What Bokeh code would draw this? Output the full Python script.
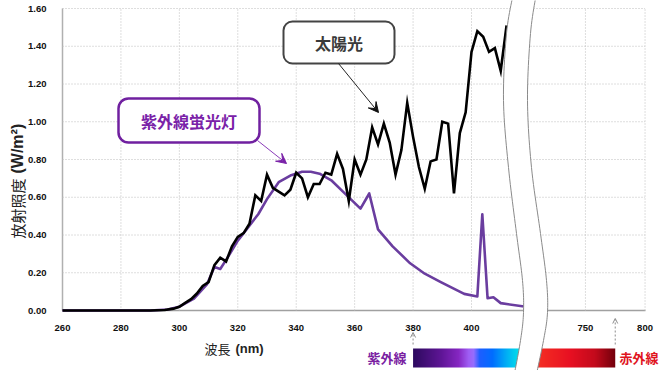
import numpy as np
from bokeh.plotting import figure
from bokeh.models import Range1d, FixedTicker, PrintfTickFormatter, Arrow, VeeHead, OpenHead
from bokeh.core.properties import value
from bokeh.embed import file_html
from bokeh.resources import INLINE

# ---------------- data ----------------
sun_nm = [260, 270, 280, 290, 295, 298,
          300, 302, 304, 306, 308, 310, 312, 314, 316, 318, 320, 322, 324, 326, 328, 330,
          332, 334, 336, 338, 340, 342, 344, 346, 348, 350, 352, 354, 356, 358, 360,
          362, 364, 366, 368, 370, 372, 374, 376, 378, 380, 382, 384, 386, 388, 390,
          392, 394, 396, 398, 400, 402, 404, 406, 408, 410, 412]
sun_val = [0, 0, 0, 0, 0.003, 0.01,
           0.02, 0.04, 0.06, 0.09, 0.13, 0.15, 0.24, 0.28, 0.26, 0.34, 0.39, 0.41, 0.46, 0.61, 0.58, 0.72,
           0.65, 0.63, 0.61, 0.64, 0.73, 0.70, 0.60, 0.67, 0.67, 0.73, 0.72, 0.83, 0.75, 0.58, 0.80,
           0.72, 0.80, 0.97, 0.88, 0.99, 0.89, 0.72, 0.85, 1.10, 0.92, 0.76, 0.645, 0.79, 0.80, 1.00,
           0.99, 0.62, 0.94, 1.05, 1.37, 1.48, 1.45, 1.37, 1.39, 1.27, 1.51]

uv_nm = [260, 280, 290, 296, 300, 305, 309.5, 312, 314, 316.5, 320, 323, 327, 330, 334,
         338, 342, 345, 348, 352, 356, 362, 365, 368, 373, 379, 384, 389.5, 397.5, 402,
         403.7, 405.5, 407.5, 410, 418]
uv_val = [0, 0, 0, 0.005, 0.02, 0.063, 0.14, 0.23, 0.22, 0.28, 0.37, 0.43, 0.51, 0.59, 0.68,
          0.715, 0.735, 0.735, 0.725, 0.69, 0.63, 0.54, 0.62, 0.43, 0.34, 0.25, 0.195, 0.15, 0.088, 0.074,
          0.51, 0.065, 0.07, 0.039, 0.021]

x_ticks_left = [260, 280, 300, 320, 340, 360, 380, 400]
x_ticks_right = [750, 800]
y_ticks = [0.0, 0.2, 0.4, 0.6, 0.8, 1.0, 1.2, 1.4, 1.6]

uv_label = "紫外線"
ir_label = "赤外線"
sun_label = "太陽光"
lamp_label = "紫外線蛍光灯"
uv_edge_nm = 380
ir_edge_nm = 775

# ---------------- layout helpers (canvas pixel -> data) ----------------
W, H = 670, 370
PX_PER_NM = 409.0 / 140.0
Y_SCALE = 302.0 / 1.6


def ix(px):
    return 260 + (px - 62) / PX_PER_NM


def iy(py):
    return (310 - py) / Y_SCALE


XB750 = round(ix(585), 1)
XB800 = round(ix(644.5), 1)


def brk(nm):
    return XB750 + (nm - 750) * (XB800 - XB750) / 50.0


def smooth(pts, n=12):
    P = np.asarray(pts, float)
    P = np.vstack([P[0], P, P[-1]])
    out = []
    for i in range(1, len(P) - 2):
        p0, p1, p2, p3 = P[i - 1], P[i], P[i + 1], P[i + 2]
        for t in np.linspace(0, 1, n, endpoint=False):
            t2, t3 = t * t, t * t * t
            out.append(0.5 * ((2 * p1) + (-p0 + p2) * t + (2 * p0 - 5 * p1 + 4 * p2 - p3) * t2
                              + (-p0 + 3 * p1 - 3 * p2 + p3) * t3))
    out.append(P[-2])
    return np.array(out)


p = figure(width=W, height=H, x_range=Range1d(ix(0), ix(W)), y_range=Range1d(iy(H), iy(0)),
           output_backend="svg", toolbar_location=None, min_border=0, outline_line_color=None)
p.xgrid.visible = False
p.ygrid.visible = False
p.background_fill_color = "white"
p.border_fill_color = "white"

TICK_FONT = "Liberation Sans"
CJK = "Noto Sans CJK JP"

# ---- axes ----
tick_vals = list(x_ticks_left) + [brk(v) for v in x_ticks_right]
xa = p.xaxis[0]
xa.fixed_location = 0
xa.bounds = (260, XB800)
xa.ticker = FixedTicker(ticks=tick_vals)
xa.major_label_overrides = {brk(v): str(v) for v in x_ticks_right}
xa.major_tick_line_color = None
xa.minor_tick_line_color = None
xa.axis_line_color = "#a0a0a0"
xa.axis_line_width = 1.5
xa.major_label_standoff = 8
xa.major_label_text_font = TICK_FONT
xa.major_label_text_font_style = "bold"
xa.major_label_text_font_size = "9.5px"
xa.major_label_text_color = "#111111"
xa.level = "underlay"

ya = p.yaxis[0]
ya.fixed_location = 260
ya.bounds = (0, 1.6)
ya.ticker = FixedTicker(ticks=y_ticks)
ya.formatter = PrintfTickFormatter(format="%.2f")
ya.major_tick_line_color = None
ya.minor_tick_line_color = None
ya.axis_line_color = "#b0b0b0"
ya.axis_line_width = 1.5
ya.major_label_standoff = 10
ya.major_label_text_font = TICK_FONT
ya.major_label_text_font_style = "bold"
ya.major_label_text_font_size = "9.5px"
ya.major_label_text_color = "#111111"
ya.level = "underlay"

# ---- dotted grid ----
hy = y_ticks[1:]
p.segment(x0=[260] * len(hy), x1=[XB800] * len(hy), y0=hy, y1=hy,
          line_color="#bdbdbd", line_width=1, line_dash="1 2")
vx = tick_vals[1:]
p.segment(x0=vx, x1=vx, y0=[0] * len(vx), y1=[1.6] * len(vx),
          line_color="#bdbdbd", line_width=1, line_dash="1 2")

# ---- series ----
p.line(uv_nm, uv_val, line_color="#6a3d9f", line_width=2.6, line_join="round")
p.line(sun_nm, sun_val, line_color="#000000", line_width=2.6, line_join="miter")

# ---- spectrum bar ----
bar_l_px, bar_r_px = 62 + (uv_edge_nm - 260) * PX_PER_NM, 62 + (brk(ir_edge_nm) - 260) * PX_PER_NM
ncol = int(round(bar_r_px - bar_l_px))
stops_px = [412, 440, 458, 468, 473, 479, 492, 506, 518, 527, 531, 545, 570, 595, 615]
stops_rgb = [(45, 10, 95), (95, 22, 150), (135, 40, 195), (160, 95, 245), (150, 110, 255),
             (30, 95, 255), (0, 110, 255), (0, 175, 245), (0, 222, 235), (0, 222, 235),
             (245, 55, 40), (242, 40, 35), (232, 16, 34), (195, 10, 28), (115, 0, 12)]
cols = np.linspace(bar_l_px, bar_r_px, ncol)
img = np.zeros((1, ncol), dtype=np.uint32)
view = img.view(dtype=np.uint8).reshape((1, ncol, 4))
for c in range(3):
    view[0, :, c] = np.interp(cols, stops_px, [s[c] for s in stops_rgb]).astype(np.uint8)
view[0, :, 3] = 255
p.image_rgba(image=[img], x=uv_edge_nm, y=iy(367), dw=brk(ir_edge_nm) - uv_edge_nm, dh=iy(348) - iy(367))

# ---- axis break band ----
left_pts = [(513, -8), (506, 33), (503, 100), (508, 167), (516, 233), (522, 280), (523, 312), (520, 340), (513, 378)]
right_pts = [(536, -8), (530, 33), (527, 100), (531, 167), (540, 233), (546, 280), (547, 312), (543, 340), (535, 378)]
L = smooth(left_pts)
R = smooth(right_pts)
bx = [ix(v) for v in np.concatenate([L[:, 0], R[::-1, 0]])]
by = [iy(v) for v in np.concatenate([L[:, 1], R[::-1, 1]])]
p.patch(bx, by, fill_color="white", line_color=None)
p.line([ix(v) for v in L[:, 0]], [iy(v) for v in L[:, 1]], line_color="#8a8a8a", line_width=1)
p.line([ix(v) for v in R[:, 0]], [iy(v) for v in R[:, 1]], line_color="#8a8a8a", line_width=1)

# ---- small dotted arrows marking 380 / 780 ----
for xv, top in [(uv_edge_nm, 332), (brk(ir_edge_nm), 318)]:
    p.add_layout(Arrow(x_start=xv, y_start=iy(344), x_end=xv, y_end=iy(top),
                       line_color="#8c8c8c", line_width=1, line_dash="2 2",
                       end=OpenHead(size=5, line_color="#8c8c8c", line_width=1)))

# ---- bar labels ----
p.text(x=[ix(406)], y=[iy(357)], text=[uv_label], text_font=value(CJK), text_font_style="bold",
       text_font_size="13px", text_color="#7b1fa2", text_align="right", text_baseline="middle")
p.text(x=[ix(619)], y=[iy(357)], text=[ir_label], text_font=value(CJK), text_font_style="bold",
       text_font_size="13px", text_color="#e0141e", text_align="left", text_baseline="middle")

# ---- axis titles ----
p.text(x=[ix(230)], y=[iy(348)], text=["波長"], text_font=value(CJK), text_font_size="13px",
       text_color="#222222", text_align="right", text_baseline="middle")
p.text(x=[ix(235)], y=[iy(348)], text=["(nm)"], text_font=value(TICK_FONT), text_font_style="bold",
       text_font_size="13px", text_color="#222222", text_align="left", text_baseline="middle")
p.text(x=[ix(17)], y=[iy(238)], text=["放射照度"], text_font=value(CJK), text_font_size="15px",
       text_color="#222222", text_align="left", text_baseline="middle", angle=np.pi / 2)
p.text(x=[ix(17)], y=[iy(173)], text=["(W/m²)"], text_font=value(TICK_FONT), text_font_style="bold",
       text_font_size="16px", text_color="#222222", text_align="left", text_baseline="middle", angle=np.pi / 2)

# ---- callouts ----
p.quad(left=[ix(283)], right=[ix(394)], top=[iy(21)], bottom=[iy(63)], fill_color="white",
       line_color="#444444", line_width=2, border_radius=9)
p.text(x=[ix(338.5)], y=[iy(42)], text=[sun_label], text_font=value(CJK), text_font_style="bold",
       text_font_size="16px", text_color="#3a3a3a", text_align="center", text_baseline="middle")
p.add_layout(Arrow(x_start=ix(338), y_start=iy(63), x_end=ix(378), y_end=iy(112),
                   line_color="#222222", line_width=1,
                   end=VeeHead(size=10, fill_color="#111111", line_color="#111111")))

p.quad(left=[ix(118)], right=[ix(259)], top=[iy(98)], bottom=[iy(142)], fill_color="white",
       line_color="#7020a0", line_width=2.5, border_radius=10)
p.text(x=[ix(188.5)], y=[iy(120)], text=[lamp_label], text_font=value(CJK), text_font_style="bold",
       text_font_size="16px", text_color="#7a22a8", text_align="center", text_baseline="middle")
p.add_layout(Arrow(x_start=ix(257), y_start=iy(140), x_end=ix(286), y_end=iy(163),
                   line_color="#8a3ab8", line_width=1,
                   end=VeeHead(size=10, fill_color="#7a22a8", line_color="#7a22a8")))

open("out.html", "w").write(file_html(p, INLINE))
